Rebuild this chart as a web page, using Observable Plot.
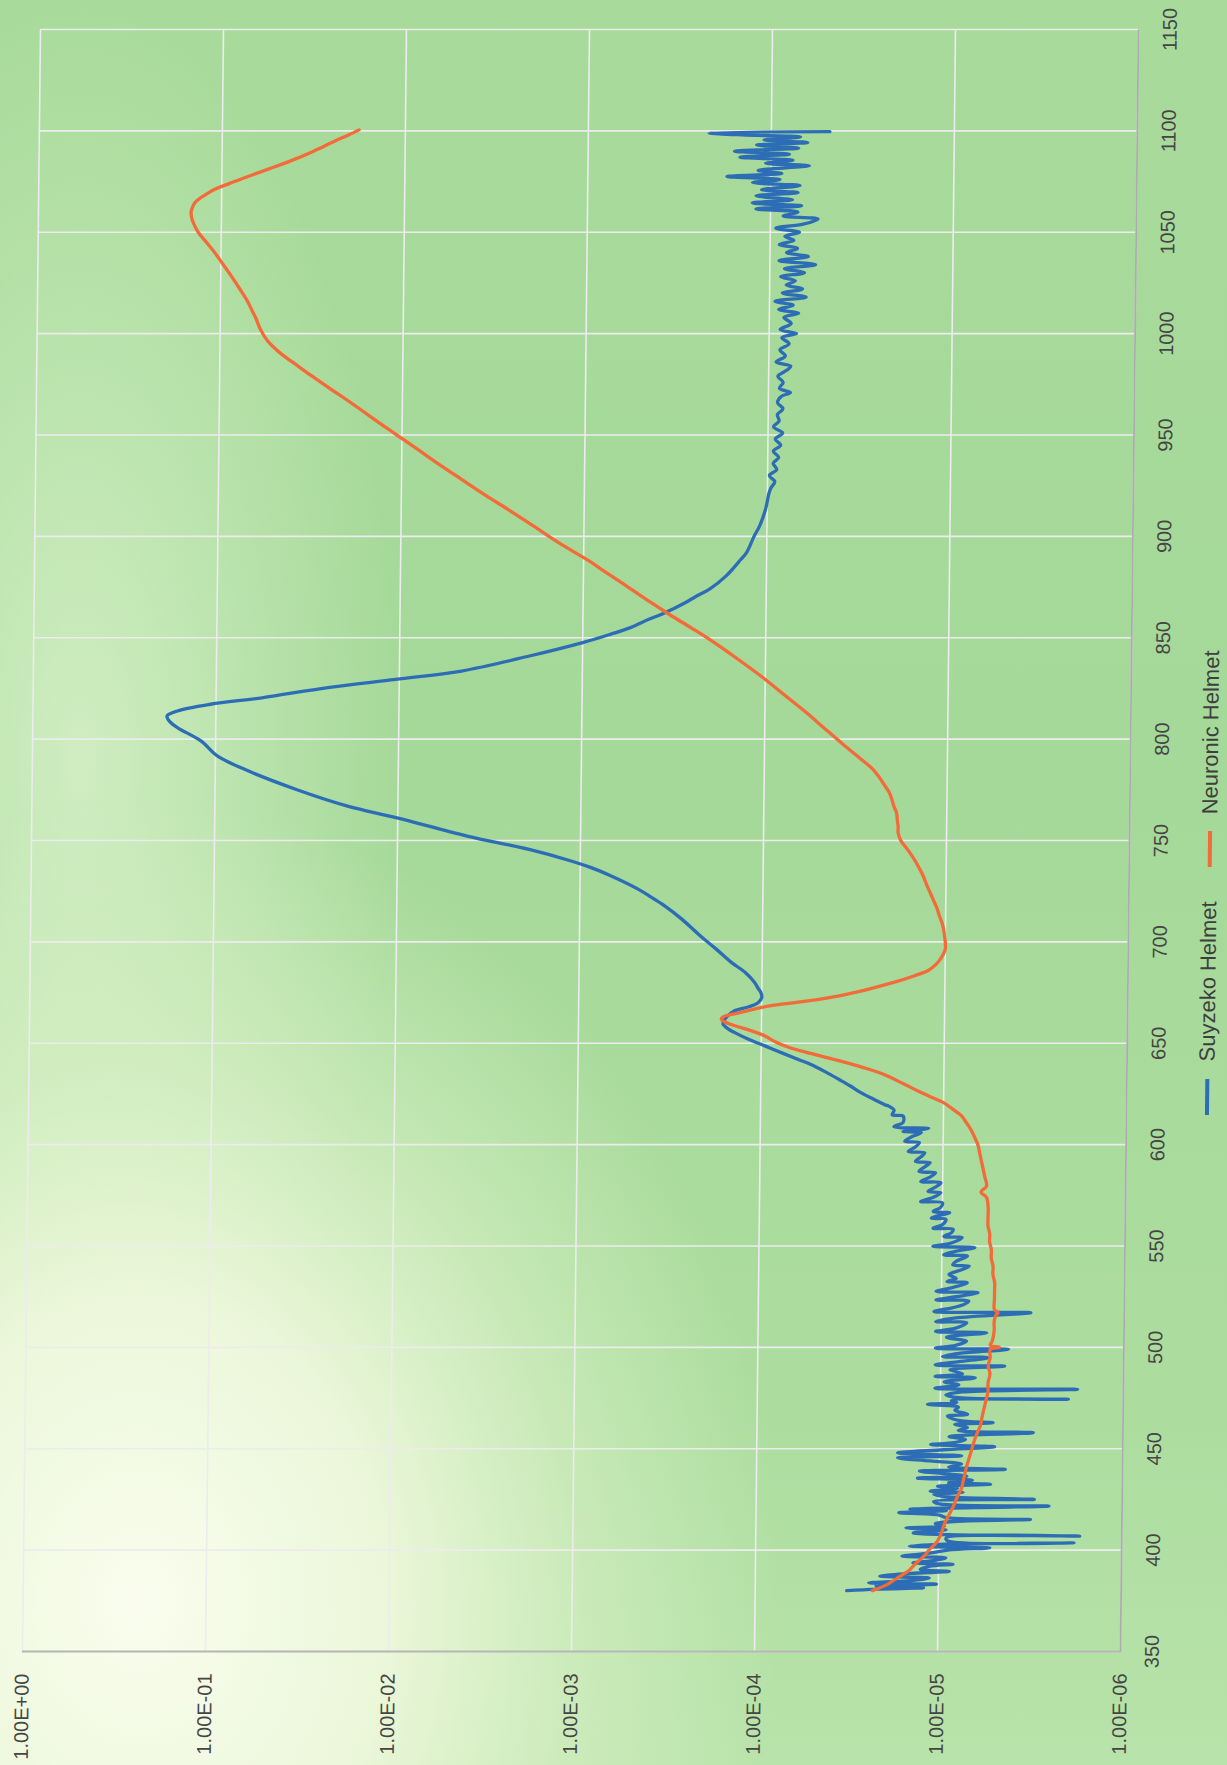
<!DOCTYPE html>
<html>
<head>
<meta charset="utf-8">
<script src="https://cdn.jsdelivr.net/npm/d3@7"></script>
<script src="https://cdn.jsdelivr.net/npm/@observablehq/plot@0.6"></script>
<style>
  html, body { margin: 0; padding: 0; }
  body {
    width: 1227px; height: 1765px; overflow: hidden; position: relative;
    font-family: "Liberation Sans", Arial, sans-serif;
    background:
      radial-gradient(ellipse 640px 800px at 140px 1600px, rgba(250,253,238,1) 0%, rgba(240,249,222,0.92) 38%, rgba(222,243,202,0.55) 68%, rgba(200,235,180,0) 100%),
      radial-gradient(ellipse 320px 760px at 80px 760px, rgba(222,244,206,0.75) 0%, rgba(222,244,206,0) 100%),
      linear-gradient(180deg, #a8db9b 0%, #a5d999 45%, #acdd9f 80%, #b8e3aa 100%);
  }
  #skew { position: absolute; left: 0; top: 0; width: 1227px; height: 1765px;
          transform: skewX(-0.636deg); transform-origin: 0 840px; }
  #rot { position: absolute; left: 0; top: 0; width: 1765px; height: 1227px;
         transform-origin: 0 0; transform: translate(0px, 1765px) rotate(-90deg); }
  #rot svg { display: block; }
  #legend { height: 40px; display: flex; justify-content: center; align-items: center;
            font-size: 22px; color: #3e3e3e; gap: 34px; }
  .item { display: flex; align-items: center; }
  .sw { width: 36px; height: 3.5px; margin-right: 17px; }
</style>
</head>
<body>
<div id="skew"><div id="rot"><div id="chart"></div>
  <div id="legend">
    <div class="item"><div class="sw" style="background:#2d6db5"></div><span>Suyzeko Helmet</span></div>
    <div class="item"><div class="sw" style="background:#f26b38"></div><span>Neuronic Helmet</span></div>
  </div>
</div></div>
<script>
// Axis ticks
const wavelengthTicks = [350, 400, 450, 500, 550, 600, 650, 700, 750, 800, 850, 900, 950, 1000, 1050, 1100, 1150];
const transmissionTicks = [1, 1e-1, 1e-2, 1e-3, 1e-4, 1e-5, 1e-6];
const transmissionTickLabels = ["1.00E+00", "1.00E-01", "1.00E-02", "1.00E-03", "1.00E-04", "1.00E-05", "1.00E-06"];

// Suyzeko Helmet: wavelength (nm) and log10 transmission
const suyzekoNm = [380.0,380.8,381.4,382.3,383.2,383.9,385.0,386.2,387.2,388.5,389.5,390.4,392.0,393.0,393.7,395.0,396.2,397.0,398.5,400.0,
401.1,402.0,403.0,403.6,404.5,406.0,406.9,407.6,408.5,410.0,411.0,411.8,413.0,414.2,415.1,416.0,417.3,418.4,419.5,420.2,
421.0,421.7,422.8,424.0,425.0,426.2,427.5,428.5,429.1,430.5,431.5,432.5,433.2,434.5,435.5,436.5,437.8,439.0,439.8,441.0,
442.5,444.0,445.5,446.5,448.0,449.5,451.0,452.1,453.0,454.5,456.0,457.9,459.0,460.5,462.0,462.8,464.0,466.1,467.0,469.0,
470.5,471.9,472.8,473.8,474.4,475.2,476.5,478.0,479.3,479.9,481.5,483.0,485.0,485.7,487.0,489.0,490.7,491.3,493.0,494.9,
495.5,497.0,499.0,499.6,501.0,503.0,505.0,507.2,507.8,509.5,512.1,512.7,514.5,517.1,517.7,519.5,521.0,522.8,523.4,525.0,
527.0,527.6,529.5,531.9,532.5,534.0,536.0,538.0,540.1,540.7,542.5,545.0,545.6,547.5,549.2,549.8,551.5,554.1,554.7,556.5,
558.2,558.8,560.5,563.1,563.7,565.0,566.4,567.0,569.0,571.3,571.9,574.0,576.3,576.9,579.0,581.2,581.8,584.0,586.1,586.7,
589.0,591.1,591.7,594.0,596.0,596.6,599.0,601.0,601.6,604.0,605.9,606.5,608.0,608.8,611.0,614.1,614.7,617.0,619.0,619.6,
622.3,625.5,628.9,632.0,636.0,639.6,642.1,645.0,648.7,652.0,655.0,657.0,659.5,661.0,663.0,665.9,668.0,670.0,672.5,675.0,
677.0,680.0,684.8,690.0,696.3,703.0,711.1,718.0,722.6,725.9,732.5,736.6,739.9,745.6,752.2,761.3,767.1,775.3,785.1,791.7,
799.1,805.7,808.5,811.4,813.9,817.2,820.4,825.4,829.5,833.6,841.0,847.6,851.7,855.0,859.1,861.6,867.4,870.6,874.0,880.5,
888.7,892.0,900.0,905.2,913.0,921.6,924,927,930,933,936,939,942,945,948,951,954,957,960,
963,966,969,971,973,976,979,982,984,986,989,992,995,998,1000,1002,1005,1008,1010,1012,
1014,1016,1018,1020,1022,1024,1026,1028,1030,1032,1034,1036,1038,1040,1042,1044,1046,1048,1050,1052,
1054,1056.5,1058,1060,1061.5,1063,1064.5,1066,1068,1069.5,1071,1073,1074.5,1076,1077.5,1079,1080.5,1082.8,1084,1085.5,
1087,1088.5,1090,1091.5,1093,1094.3,1095.5,1097,1098,1099.0,1099.6];
const suyzekoLog = [-4.50,-4.66,-4.92,-4.66,-4.99,-4.62,-4.85,-4.95,-4.68,-4.85,-5.06,-4.90,-4.95,-5.08,-4.86,-4.98,-5.04,-4.80,-4.95,-5.05,
-5.28,-4.84,-5.04,-5.74,-5.05,-5.04,-5.77,-5.05,-4.86,-5.04,-4.82,-5.03,-4.98,-5.10,-5.50,-5.04,-5.00,-4.78,-5.04,-4.84,
-5.20,-5.60,-5.00,-4.97,-5.52,-5.05,-4.97,-5.13,-4.95,-5.10,-4.99,-5.28,-5.05,-5.18,-4.88,-5.15,-5.02,-4.89,-5.36,-5.05,
-5.12,-4.95,-4.77,-5.12,-4.77,-5.02,-5.30,-4.95,-5.08,-5.14,-5.05,-5.51,-5.10,-5.15,-5.08,-5.29,-5.10,-5.04,-5.15,-5.08,
-5.10,-4.93,-5.09,-5.06,-5.70,-5.10,-5.03,-5.12,-5.75,-4.97,-5.10,-5.02,-5.19,-4.97,-5.12,-5.05,-5.35,-4.97,-5.10,-5.26,
-5.01,-5.10,-5.37,-4.97,-5.08,-5.14,-5.03,-5.25,-4.97,-5.08,-5.14,-4.97,-5.08,-5.49,-4.96,-5.06,-5.12,-5.15,-4.97,-5.08,
-5.20,-4.97,-5.06,-5.14,-5.03,-5.08,-5.04,-5.10,-5.15,-5.06,-5.08,-5.14,-5.01,-5.08,-5.18,-4.95,-5.05,-5.11,-5.01,-5.05,
-5.06,-4.95,-5.00,-5.02,-4.94,-4.98,-5.04,-4.95,-4.99,-5.00,-4.88,-4.95,-4.99,-4.92,-4.96,-4.99,-4.88,-4.93,-4.96,-4.87,
-4.90,-4.93,-4.85,-4.88,-4.90,-4.81,-4.85,-4.87,-4.79,-4.83,-4.88,-4.78,-4.92,-4.73,-4.78,-4.78,-4.72,-4.73,-4.70,-4.68,
-4.62,-4.55,-4.49,-4.43,-4.35,-4.27,-4.20,-4.12,-4.02,-3.93,-3.86,-3.82,-3.79,-3.795,-3.81,-3.85,-3.93,-3.98,-4.00,-3.995,
-3.98,-3.96,-3.91,-3.83,-3.75,-3.66,-3.56,-3.46,-3.38,-3.32,-3.17,-3.06,-2.95,-2.72,-2.38,-1.99,-1.72,-1.44,-1.16,-1.01,
-0.92,-0.79,-0.75,-0.733,-0.79,-0.97,-1.25,-1.61,-1.98,-2.34,-2.71,-3.00,-3.15,-3.26,-3.36,-3.43,-3.56,-3.62,-3.69,-3.78,
-3.86,-3.89,-3.93,-3.96,-3.99,-4.01,-4.02,-4.04,-4.01,-4.05,-4.03,-4.06,-4.03,-4.07,-4.04,-4.08,-4.03,-4.06,-4.05,
-4.08,-4.05,-4.07,-4.12,-4.06,-4.08,-4.05,-4.10,-4.12,-4.04,-4.09,-4.06,-4.11,-4.07,-4.15,-4.06,-4.12,-4.08,-4.16,-4.05,
-4.13,-4.03,-4.20,-4.07,-4.18,-4.09,-4.14,-4.06,-4.19,-4.08,-4.25,-4.05,-4.21,-4.09,-4.15,-4.05,-4.13,-4.08,-4.16,-4.03,
-4.18,-4.26,-4.07,-4.15,-3.92,-4.17,-3.90,-4.12,-3.92,-4.15,-3.95,-4.16,-3.90,-4.05,-3.76,-4.06,-3.93,-4.21,-3.97,-4.12,
-3.83,-4.10,-3.80,-4.15,-3.92,-4.20,-3.96,-4.16,-3.84,-3.66,-4.32];

// Neuronic Helmet: wavelength (nm) and log10 transmission
const neuronicNm = [380.0,383.0,387.1,390.0,393.8,397.0,400.3,404.0,408.6,413.0,418.4,422.0,426.6,430.0,434.0,438.2,442.0,445.0,449.7,453.0,
457.0,461.2,466.0,470.0,474.0,478.0,482.6,487.0,491.0,495.0,499.0,500.0,501.0,503.0,508.0,513.0,516.0,517.0,518.7,524.0,
528.0,531.9,536.0,540.0,544.0,548.3,552.0,556.0,560.0,564.8,569.0,574.0,576.6,579.6,584.0,588.0,592.0,596.0,600.0,603.0,
605.9,609.0,611.5,614.1,617.5,620.7,623.5,626.4,630.0,634.7,638.0,642.0,645.0,648.0,651.0,653.6,656.0,658.5,660.5,661.8,
663.0,664.5,666.0,667.5,669.0,670.0,672.5,674.5,676.6,680.0,683.2,686.0,688.9,691.0,694.0,696.5,699.6,703.0,706.0,709.5,
713.0,717.0,721.0,725.0,728.0,732.5,736.0,740.0,744.0,747.0,750.0,753.9,757.0,760.0,763.8,767.0,770.0,773.6,777.0,781.0,
785.1,790.0,797.5,805.0,813.1,820.0,830.4,840.0,849.3,855.0,861.6,867.4,875.6,883.0,887.9,897.0,905.0,913.2,920.0,928.0,
936.4,943.0,949.5,956.0,962.7,968.0,972.5,979.0,985.8,990.0,994.0,997.0,999.7,1003.0,1007.1,1012.0,1017.0,1022.0,1028.5,1034.0,
1040.0,1045.0,1049.9,1054.0,1057.0,1059.8,1062.0,1064.7,1067.0,1069.0,1071.3,1074.0,1077.5,1081.0,1085.2,1090.0,1095.0,1098.0,1100.5];
const neuronicLog = [-4.64,-4.72,-4.79,-4.84,-4.88,-4.92,-4.95,-4.99,-5.015,-5.03,-5.06,-5.08,-5.10,-5.12,-5.13,-5.14,-5.15,-5.16,-5.175,-5.185,
-5.20,-5.22,-5.23,-5.24,-5.25,-5.26,-5.26,-5.27,-5.26,-5.27,-5.27,-5.32,-5.27,-5.28,-5.29,-5.29,-5.30,-5.31,-5.29,-5.29,
-5.29,-5.29,-5.28,-5.28,-5.27,-5.27,-5.26,-5.26,-5.25,-5.25,-5.25,-5.24,-5.21,-5.24,-5.23,-5.22,-5.21,-5.20,-5.19,-5.175,
-5.16,-5.14,-5.12,-5.10,-5.05,-5.00,-4.93,-4.86,-4.78,-4.67,-4.56,-4.40,-4.27,-4.15,-4.07,-4.02,-3.95,-3.86,-3.80,-3.78,
-3.79,-3.85,-3.92,-3.99,-4.09,-4.18,-4.37,-4.48,-4.58,-4.72,-4.83,-4.91,-4.95,-4.97,-4.99,-5.00,-5.00,-4.995,-4.99,-4.98,
-4.965,-4.95,-4.93,-4.91,-4.895,-4.875,-4.855,-4.83,-4.80,-4.775,-4.75,-4.735,-4.735,-4.73,-4.725,-4.71,-4.70,-4.685,-4.66,-4.63,
-4.594,-4.53,-4.428,-4.33,-4.226,-4.13,-3.986,-3.84,-3.691,-3.59,-3.47,-3.37,-3.235,-3.11,-3.03,-2.86,-2.725,-2.585,-2.465,-2.33,
-2.19,-2.085,-1.98,-1.875,-1.77,-1.685,-1.61,-1.505,-1.40,-1.335,-1.285,-1.255,-1.235,-1.215,-1.197,-1.17,-1.141,-1.105,-1.057,-1.013,
-0.965,-0.92,-0.875,-0.85,-0.838,-0.834,-0.84,-0.855,-0.885,-0.92,-0.965,-1.04,-1.143,-1.25,-1.375,-1.50,-1.616,-1.69,-1.747];

const suyzeko = suyzekoNm.map((nm, i) => ({nm, value: Math.pow(10, suyzekoLog[i])}));
const neuronic = neuronicNm.map((nm, i) => ({nm, value: Math.pow(10, neuronicLog[i])}));

const labelFor = d => transmissionTickLabels[transmissionTicks.findIndex(t => Math.abs(Math.log10(t) - Math.log10(d)) < 1e-6)];

const chart = Plot.plot({
  width: 1765,
  height: 1190,
  marginLeft: 113,
  marginRight: 30,
  marginTop: 31,
  marginBottom: 61,
  style: {fontFamily: "'Liberation Sans', Arial, sans-serif", fontSize: "20px", color: "#454545", background: "transparent", overflow: "visible"},
  x: {domain: [350, 1150], label: null},
  y: {type: "log", domain: [1e-6, 1], label: null},
  marks: [
    Plot.gridX(wavelengthTicks, {stroke: "#ececec", strokeOpacity: 1, strokeWidth: 1.6}),
    Plot.gridY(transmissionTicks, {stroke: "#ececec", strokeOpacity: 1, strokeWidth: 1.6}),
    Plot.ruleY([1e-6], {stroke: "#acacac", strokeWidth: 1.8}),
    Plot.ruleX([350], {stroke: "#b6b6b6", strokeWidth: 1.8}),
    Plot.axisX(wavelengthTicks, {tickSize: 0, tickPadding: 24, tickFormat: d => String(d), label: null}),
    Plot.axisY(transmissionTicks, {tickSize: 0, tickPadding: 22, tickFormat: labelFor, label: null}),
    Plot.line(suyzeko, {x: "nm", y: "value", stroke: "#2d6db5", strokeWidth: 3.3, strokeLinejoin: "round", curve: "catmull-rom"}),
    Plot.line(neuronic, {x: "nm", y: "value", stroke: "#f26b38", strokeWidth: 3.3, curve: "catmull-rom"})
  ]
});
document.getElementById("chart").appendChild(chart);
</script>
</body>
</html>
